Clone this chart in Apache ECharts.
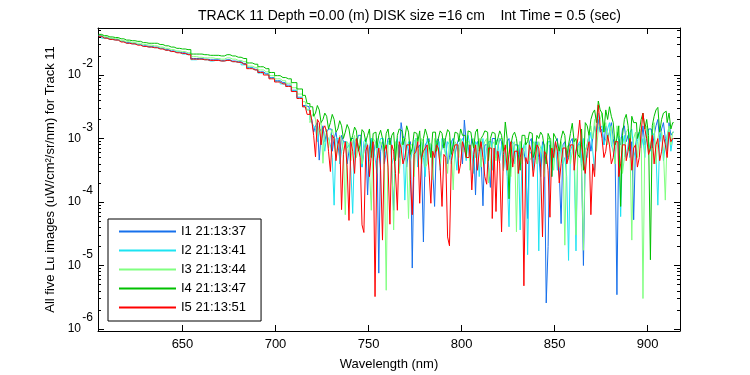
<!DOCTYPE html>
<html>
<head>
<meta charset="utf-8">
<script src="https://cdn.jsdelivr.net/npm/echarts@6/dist/echarts.min.js"></script>
<style>
html, body { margin: 0; background: #fff; }
#chart { width: 750px; height: 375px; }
</style>
</head>
<body>
<div id="chart"></div>
<script>
// wavelength (nm): 3 nm steps on the smooth part, 1 nm steps on the noisy tail
var wavelength = [
    605,608,611,614,617,620,623,626,629,632,635,638,641,644,647,650,653,656,659,662,
    665,668,671,674,677,680,683,686,689,692,695,698,701,704,707,710,713,716,
    718,719,720,721,722,723,724,725,726,727,728,729,730,731,732,733,734,735,736,737,
    738,739,740,741,742,743,744,745,746,747,748,749,750,751,752,753,754,755,756,757,
    758,759,760,761,762,763,764,765,766,767,768,769,770,771,772,773,774,775,776,777,
    778,779,780,781,782,783,784,785,786,787,788,789,790,791,792,793,794,795,796,797,
    798,799,800,801,802,803,804,805,806,807,808,809,810,811,812,813,814,815,816,817,
    818,819,820,821,822,823,824,825,826,827,828,829,830,831,832,833,834,835,836,837,
    838,839,840,841,842,843,844,845,846,847,848,849,850,851,852,853,854,855,856,857,
    858,859,860,861,862,863,864,865,866,867,868,869,870,871,872,873,874,875,876,877,
    878,879,880,881,882,883,884,885,886,887,888,889,890,891,892,893,894,895,896,897,
    898,899,900,901,902,903,904,905,906,907,908,909,910,911,912,913,914
];

// Lu values, stored as log10 (decades)
var i1Log = [
    -1.38,-1.41,-1.43,-1.44,-1.47,-1.49,-1.50,-1.52,-1.54,-1.55,
    -1.56,-1.58,-1.60,-1.62,-1.64,-1.65,-1.67,-1.74,-1.74,-1.75,
    -1.76,-1.76,-1.77,-1.76,-1.78,-1.79,-1.82,-1.88,-1.91,-1.95,
    -1.98,-2.04,-2.09,-2.12,-2.16,-2.24,-2.35,-2.48,
    -2.50,-2.60,-2.70,-2.90,-2.80,-2.75,-3.34,-2.95,-2.80,-3.05,-2.90,-2.85,-2.85,-3.20,-3.00,-2.90,-3.10,-3.30,-2.95,-3.05,
    -3.05,-3.40,-3.20,-3.00,-3.00,-3.25,-3.10,-2.95,-2.95,-3.45,-3.20,-3.05,-3.89,-3.15,-3.00,-3.35,-3.10,-3.00,-5.12,-3.20,
    -3.05,-3.40,-3.20,-3.00,-3.00,-3.50,-4.13,-3.10,-3.10,-3.30,-2.75,-2.95,-3.05,-3.45,-3.20,-3.05,-5.04,-3.25,-3.00,-3.15,
    -3.10,-3.35,-4.63,-3.10,-3.05,-3.00,-3.20,-3.50,-4.07,-3.05,-3.00,-3.30,-3.15,-3.00,-3.05,-3.40,-3.30,-3.05,-3.00,-3.25,
    -3.10,-3.00,-3.05,-3.40,-2.71,-3.05,-3.10,-3.35,-3.00,-3.10,-3.89,-3.05,-3.05,-3.30,-4.06,-3.10,-3.10,-3.45,-3.77,-3.00,
    -3.00,-3.30,-3.15,-3.00,-3.05,-3.50,-3.20,-3.05,-3.00,-3.40,-3.30,-3.10,-3.10,-3.55,-3.05,-3.15,-3.20,-3.40,-4.26,-3.05,
    -3.00,-3.45,-3.15,-3.05,-3.30,-3.60,-3.05,-3.10,-5.59,-4.70,-3.10,-3.30,-3.20,-3.05,-3.00,-3.50,-4.34,-3.10,-3.05,-3.40,
    -3.15,-3.05,-3.00,-3.30,-3.20,-3.10,-3.10,-3.45,-5.00,-3.20,-3.10,-2.95,-3.20,-3.00,-2.80,-2.95,-2.70,-2.90,-2.85,-3.10,
    -2.80,-3.00,-2.90,-2.75,-3.00,-3.20,-5.46,-3.00,-3.10,-2.85,-2.80,-3.05,-2.95,-3.30,-3.05,-4.28,-3.10,-2.95,-2.90,-3.10,
    -2.80,-3.10,-3.00,-2.85,-2.85,-3.15,-2.95,-2.80,-2.70,-3.05,-2.85,-2.75,-3.00,-3.20,-2.75,-2.95,-2.90
];
var i2Log = [
    -1.38,-1.42,-1.44,-1.45,-1.47,-1.50,-1.51,-1.52,-1.55,-1.56,
    -1.57,-1.58,-1.61,-1.63,-1.64,-1.67,-1.68,-1.76,-1.75,-1.76,
    -1.78,-1.77,-1.78,-1.77,-1.79,-1.80,-1.84,-1.89,-1.92,-1.97,
    -1.99,-2.05,-2.10,-2.14,-2.18,-2.25,-2.36,-2.50,
    -2.55,-2.70,-2.75,-2.80,-2.85,-3.05,-2.90,-2.85,-3.00,-3.20,-2.95,-3.00,-3.10,-3.30,-4.05,-3.00,-3.00,-3.40,-3.20,-3.05,
    -3.05,-3.15,-3.10,-3.50,-4.18,-3.05,-3.00,-3.10,-3.20,-3.45,-3.05,-3.00,-3.15,-3.35,-3.00,-3.10,-3.30,-3.55,-3.10,-3.00,
    -3.00,-3.30,-3.20,-3.05,-3.05,-3.40,-3.30,-3.10,-3.00,-3.50,-3.10,-3.00,-3.97,-3.20,-3.05,-3.35,-3.20,-3.05,-3.00,-3.45,
    -3.15,-3.05,-3.30,-3.60,-3.00,-3.10,-3.10,-3.40,-3.20,-3.05,-3.05,-3.50,-3.00,-3.15,-3.25,-3.05,-3.10,-3.40,-3.00,-3.20,
    -3.50,-3.10,-3.05,-3.00,-3.10,-3.35,-2.95,-3.10,-3.20,-3.55,-3.05,-3.10,-3.60,-3.20,-3.00,-3.40,-3.15,-3.05,-3.05,-3.50,
    -3.20,-3.05,-3.00,-3.35,-3.10,-3.20,-3.30,-3.60,-4.39,-3.10,-3.05,-3.40,-3.20,-3.10,-4.44,-3.30,-3.10,-3.05,-4.83,-3.25,
    -3.20,-3.50,-3.05,-3.10,-4.77,-3.20,-3.10,-3.45,-3.30,-3.05,-3.05,-3.60,-3.20,-3.10,-3.50,-3.25,-3.10,-3.40,-3.30,-3.60,
    -4.92,-3.20,-3.10,-3.35,-4.77,-3.10,-3.05,-3.40,-3.00,-3.25,-3.30,-3.05,-2.90,-3.20,-3.50,-2.95,-2.60,-2.85,-2.80,-3.10,
    -3.00,-2.85,-2.75,-3.10,-3.20,-3.35,-2.90,-3.00,-4.23,-3.10,-2.95,-3.30,-3.10,-2.90,-2.85,-3.20,-3.30,-3.05,-2.90,-3.15,
    -3.00,-3.30,-2.85,-3.05,-3.20,-2.90,-2.95,-3.25,-4.05,-3.00,-2.90,-3.35,-3.10,-2.95,-2.85,-3.20,-3.00
];
var i3Log = [
    -1.37,-1.40,-1.42,-1.43,-1.46,-1.47,-1.49,-1.50,-1.52,-1.53,
    -1.54,-1.56,-1.58,-1.60,-1.62,-1.63,-1.65,-1.71,-1.72,-1.73,
    -1.73,-1.74,-1.75,-1.73,-1.75,-1.77,-1.79,-1.86,-1.88,-1.92,
    -1.95,-2.01,-2.06,-2.09,-2.13,-2.20,-2.30,-2.42,
    -2.55,-2.75,-2.65,-2.60,-2.70,-2.95,-2.80,-2.75,-3.39,-2.90,-2.85,-3.15,-2.95,-2.85,-3.00,-3.30,-3.10,-2.95,-3.00,-3.20,
    -4.20,-3.05,-3.10,-3.35,-3.05,-2.95,-3.30,-3.15,-3.00,-3.40,-3.20,-3.05,-3.10,-3.50,-4.13,-3.00,-3.05,-3.25,-3.30,-3.05,
    -3.10,-3.45,-5.39,-3.10,-3.00,-3.30,-4.44,-3.05,-3.10,-3.55,-3.20,-3.00,-3.00,-3.35,-4.26,-3.10,-3.10,-3.60,-3.00,-3.15,
    -3.25,-3.00,-3.05,-3.45,-3.40,-3.05,-3.10,-3.65,-3.00,-3.10,-3.20,-3.40,-3.05,-3.00,-3.30,-3.55,-3.00,-3.15,-3.81,-3.05,
    -3.10,-3.30,-3.00,-3.20,-3.20,-3.05,-3.05,-3.50,-3.10,-3.00,-3.30,-3.15,-3.00,-3.45,-3.15,-3.05,-3.00,-3.70,-3.40,-3.10,
    -3.05,-3.35,-3.10,-3.00,-3.00,-3.50,-3.20,-3.05,-3.45,-3.60,-3.10,-3.05,-4.47,-3.20,-3.05,-3.40,-3.20,-3.00,-3.00,-3.35,
    -3.30,-3.05,-3.10,-3.40,-3.05,-3.15,-3.25,-3.60,-3.10,-3.00,-3.00,-3.30,-3.50,-3.10,-3.15,-3.45,-3.05,-3.20,-4.68,-3.15,
    -3.10,-3.40,-3.20,-3.00,-4.52,-3.15,-3.10,-3.50,-4.76,-3.20,-3.10,-2.95,-2.80,-3.00,-2.70,-3.20,-2.85,-2.70,-2.60,-2.90,
    -2.75,-3.10,-2.90,-2.80,-3.20,-3.40,-2.80,-2.95,-3.00,-3.55,-3.30,-2.90,-2.85,-3.10,-4.60,-3.00,-2.90,-3.30,-3.00,-2.85,
    -5.52,-3.00,-2.80,-3.25,-3.10,-2.90,-2.75,-3.40,-3.00,-2.85,-2.90,-3.20,-3.97,-2.95,-2.80,-3.10,-2.90
];
var i4Log = [
    -1.36,-1.38,-1.40,-1.41,-1.43,-1.45,-1.46,-1.47,-1.49,-1.50,
    -1.50,-1.52,-1.54,-1.56,-1.58,-1.59,-1.60,-1.67,-1.67,-1.68,
    -1.69,-1.69,-1.70,-1.68,-1.70,-1.72,-1.74,-1.81,-1.83,-1.87,
    -1.90,-1.96,-2.01,-2.04,-2.06,-2.12,-2.22,-2.32,
    -2.45,-2.50,-2.50,-2.65,-2.60,-2.48,-2.55,-2.75,-2.70,-2.60,-2.65,-2.85,-2.75,-2.62,-2.70,-2.90,-2.85,-2.72,-2.80,-3.00,
    -2.90,-2.78,-2.85,-3.05,-2.95,-2.82,-2.88,-3.20,-3.10,-2.86,-2.90,-3.05,-2.95,-2.85,-3.30,-2.92,-2.90,-3.15,-2.95,-2.87,
    -3.00,-3.20,-2.92,-2.85,-3.10,-2.95,-2.90,-3.35,-2.95,-2.85,-2.88,-3.10,-3.00,-2.80,-2.90,-3.25,-3.15,-2.90,-2.92,-3.05,
    -2.88,-3.40,-3.00,-2.85,-2.95,-3.10,-3.30,-2.90,-2.90,-3.20,-3.00,-2.88,-2.92,-3.15,-2.98,-2.86,-2.90,-3.25,-3.10,-2.90,
    -2.92,-3.05,-2.85,-2.95,-2.95,-3.30,-2.88,-2.90,-3.00,-3.15,-2.90,-2.85,-3.20,-3.00,-2.95,-2.88,-2.90,-3.35,-3.00,-2.90,
    -2.92,-3.10,-3.00,-2.88,-2.95,-3.20,-2.74,-3.00,-3.95,-3.10,-2.95,-2.90,-3.00,-3.25,-3.50,-2.95,-2.95,-3.10,-3.05,-2.90,
    -2.92,-3.30,-3.20,-2.95,-3.00,-2.90,-2.95,-3.15,-3.40,-2.92,-3.00,-3.60,-2.92,-2.98,-3.05,-3.20,-3.00,-2.88,-2.95,-3.30,
    -3.10,-2.92,-2.76,-3.05,-3.00,-3.25,-3.30,-2.85,-3.50,-2.75,-2.80,-2.95,-2.70,-2.60,-2.55,-2.75,-2.41,-2.55,-2.60,-2.90,
    -2.55,-2.70,-2.50,-2.65,-2.75,-3.10,-3.00,-2.80,-4.07,-2.95,-2.70,-2.62,-2.80,-3.20,-2.65,-2.75,-2.75,-3.00,-2.90,-2.70,
    -2.60,-2.85,-2.70,-2.95,-4.91,-2.80,-2.65,-2.55,-2.51,-2.90,-2.70,-2.60,-2.57,-2.75,-2.60,-2.85,-2.75
];
var i5Log = [
    -1.39,-1.42,-1.44,-1.45,-1.48,-1.50,-1.51,-1.53,-1.55,-1.56,
    -1.57,-1.59,-1.61,-1.63,-1.65,-1.66,-1.68,-1.75,-1.75,-1.76,
    -1.77,-1.77,-1.78,-1.77,-1.79,-1.80,-1.83,-1.90,-1.92,-1.96,
    -2.00,-2.06,-2.11,-2.14,-2.18,-2.26,-2.37,-2.50,
    -2.62,-2.55,-2.72,-2.95,-3.29,-2.70,-2.75,-3.10,-2.85,-2.80,-2.90,-3.20,-3.52,-2.95,-3.00,-3.35,-3.10,-2.98,-4.12,-3.25,
    -3.05,-3.45,-4.29,-3.05,-3.20,-3.55,-3.00,-3.15,-3.30,-4.36,-4.48,-3.20,-3.10,-3.60,-3.25,-3.05,-5.49,-3.35,-3.15,-3.50,
    -4.60,-3.20,-3.10,-3.45,-4.35,-3.10,-3.20,-3.55,-4.13,-3.05,-3.15,-3.40,-3.30,-3.10,-3.10,-3.65,-4.20,-3.25,-3.20,-3.05,
    -4.02,-3.30,-3.20,-3.15,-3.10,-3.50,-4.02,-3.20,-3.30,-3.10,-3.15,-3.45,-4.07,-3.25,-3.30,-4.55,-4.69,-3.35,-3.20,-3.10,
    -3.10,-3.55,-3.40,-3.05,-3.15,-3.30,-3.30,-3.10,-3.81,-3.25,-3.10,-3.50,-3.20,-3.05,-3.30,-3.60,-3.72,-3.15,-3.15,-4.26,
    -3.15,-4.15,-3.20,-3.40,-4.47,-3.25,-3.10,-3.50,-3.25,-3.05,-3.45,-3.20,-3.20,-3.55,-3.30,-3.15,-5.32,-3.30,-3.40,-3.10,
    -3.20,-3.60,-3.35,-3.10,-3.15,-3.45,-4.55,-3.20,-3.25,-3.50,-4.24,-3.15,-3.30,-3.05,-3.20,-3.70,-3.40,-3.15,-3.15,-3.40,
    -3.30,-3.10,-3.10,-3.50,-3.20,-3.00,-2.71,-3.10,-3.35,-3.55,-3.20,-3.05,-4.20,-3.40,-3.60,-2.90,-2.47,-2.80,-3.00,-3.30,
    -3.20,-2.95,-3.10,-3.40,-3.30,-3.05,-3.05,-3.60,-3.40,-3.10,-3.10,-3.35,-3.20,-3.00,-3.50,-3.15,-3.10,-3.45,-3.30,-2.90,
    -2.60,-2.85,-3.00,-3.25,-3.15,-2.95,-3.40,-3.10,-3.00,-3.35,-3.20,-2.95,-3.10,-3.30,-2.90,-3.05,-3.00
];

var seriesNames = ['I1 21:13:37', 'I2 21:13:41', 'I3 21:13:44', 'I4 21:13:47', 'I5 21:13:51'];
var seriesColors = ['#1670ec', '#1ce4f2', '#80ff80', '#00c000', '#ff0000'];

var xTicks = [650, 700, 750, 800, 850, 900];
var yTicks = [1e-6, 1e-5, 1e-4, 1e-3, 1e-2];
var yMinorTicks = [
    2e-6,3e-6,4e-6,5e-6,6e-6,7e-6,8e-6,9e-6,
    2e-5,3e-5,4e-5,5e-5,6e-5,7e-5,8e-5,9e-5,
    2e-4,3e-4,4e-4,5e-4,6e-4,7e-4,8e-4,9e-4,
    2e-3,3e-3,4e-3,5e-3,6e-3,7e-3,8e-3,9e-3,
    2e-2,3e-2,4e-2,5e-2
];

var FONT = "'Liberation Sans', Arial, sans-serif";
var chart = echarts.init(document.getElementById('chart'));

var logs = [i1Log, i2Log, i3Log, i4Log, i5Log];
var series = [];
for (var s = 0; s < logs.length; s++) {
    var pts = [];
    for (var i = 0; i < wavelength.length; i++) {
        pts.push([wavelength[i], Math.pow(10, logs[s][i])]);
    }
    series.push({
        name: seriesNames[s],
        type: 'line',
        step: 'middle',
        xAxisIndex: 0,
        yAxisIndex: 0,
        data: pts,
        symbol: 'none',
        showSymbol: false,
        lineStyle: { color: seriesColors[s], width: 1 },
        itemStyle: { color: seriesColors[s] },
        emphasis: { disabled: true },
        silent: true
    });
}

var xMin = 604.6, xMax = 917.4;
var yMin = 9.3e-7, yMax = 0.055;

function xAxisDef(pos, labels) {
    return {
        type: 'value', position: pos, min: xMin, max: xMax,
        splitLine: { show: false },
        axisLine: { show: true, lineStyle: { color: '#000', width: 1 } },
        axisTick: { show: true, inside: true, length: 6, customValues: xTicks, lineStyle: { color: '#000' } },
        axisLabel: { show: labels, customValues: xTicks, color: '#000', fontSize: 13, fontFamily: FONT, margin: 7 },
        name: labels ? 'Wavelength (nm)' : '',
        nameLocation: 'middle', nameGap: 27,
        nameTextStyle: { color: '#000', fontSize: 13, fontFamily: FONT }
    };
}
function yAxisDef(pos, ticks, len, labels, line) {
    return {
        type: 'log', logBase: 10, position: pos, min: yMin, max: yMax,
        splitLine: { show: false },
        axisLine: { show: line, lineStyle: { color: '#000', width: 1 } },
        axisTick: { show: true, inside: true, length: len, customValues: ticks, lineStyle: { color: '#000' } },
        axisLabel: {
            show: labels, customValues: ticks, margin: 5,
            formatter: function (v) {
                return '{e|' + Math.round(Math.log10(v)) + '}\n{b|10}\n{e| }';
            },
            rich: {
                e: { fontSize: 12, fontFamily: FONT, color: '#000', align: 'right', lineHeight: 11 },
                b: { fontSize: 12, fontFamily: FONT, color: '#000', align: 'right', lineHeight: 11, padding: [0, 12, 0, 0] }
            }
        },
        name: labels ? 'All five Lu images (uW/cm\u00b2/sr/nm) for Track 11' : '',
        nameLocation: 'middle', nameGap: 41,
        nameTextStyle: { color: '#000', fontSize: 13, fontFamily: FONT }
    };
}

chart.setOption({
    animation: false,
    backgroundColor: '#fff',
    title: {
        text: 'TRACK 11 Depth =0.00 (m) DISK size =16 cm    Int Time = 0.5 (sec)',
        left: 193, top: 4,
        textStyle: { color: '#000', fontSize: 14, fontWeight: 'normal', fontFamily: FONT }
    },
    legend: {
        data: seriesNames,
        orient: 'vertical',
        left: 108, top: 219,
        padding: [6, 15, 7, 11],
        icon: 'rect',
        itemWidth: 57, itemHeight: 2, itemGap: 6,
        selectedMode: false,
        borderColor: '#000', borderWidth: 1, borderRadius: 0,
        backgroundColor: '#fff',
        textStyle: { color: '#000', fontSize: 13, lineHeight: 13, fontFamily: FONT }
    },
    grid: { left: 98, right: 70, top: 28, bottom: 44, containLabel: false, outerBoundsMode: 'none' },
    xAxis: [xAxisDef('bottom', true), xAxisDef('top', false)],
    yAxis: [
        yAxisDef('left', yTicks, 6, true, true),
        yAxisDef('left', yMinorTicks, 3, false, false),
        yAxisDef('right', yTicks, 6, false, true),
        yAxisDef('right', yMinorTicks, 3, false, false)
    ],
    series: series
});
</script>
</body>
</html>
